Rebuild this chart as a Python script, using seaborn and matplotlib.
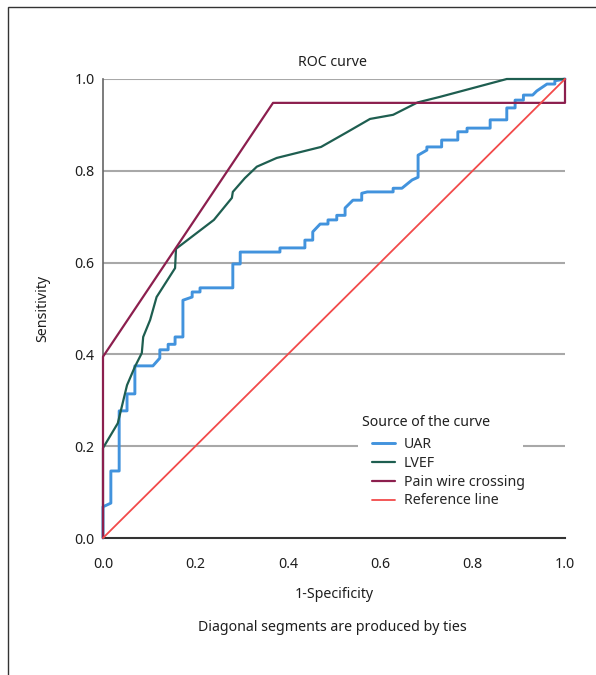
import pandas as pd
import matplotlib
matplotlib.use("Agg")
import matplotlib.pyplot as plt
import matplotlib.patches as patches
import seaborn as sns

# ROC curve points (1-Specificity, Sensitivity)
uar_fpr = [0, 0, 0.017, 0.017, 0.035, 0.035, 0.052, 0.052, 0.069, 0.069, 0.108, 0.123, 0.123,
           0.141, 0.141, 0.156, 0.156, 0.173, 0.173, 0.193, 0.193, 0.21, 0.21, 0.281, 0.281,
           0.297, 0.297, 0.383, 0.383, 0.437, 0.437, 0.454, 0.454, 0.47, 0.487, 0.487, 0.506,
           0.506, 0.524, 0.524, 0.541, 0.56, 0.56, 0.572, 0.628, 0.628, 0.647, 0.669, 0.682,
           0.682, 0.701, 0.701, 0.733, 0.733, 0.768, 0.768, 0.788, 0.788, 0.838, 0.838, 0.874,
           0.874, 0.892, 0.892, 0.91, 0.91, 0.93, 0.939, 0.961, 0.978, 0.978, 1.0]
uar_tpr = [0, 0.068, 0.076, 0.146, 0.146, 0.277, 0.277, 0.314, 0.314, 0.375, 0.375, 0.392, 0.41,
           0.41, 0.422, 0.422, 0.438, 0.438, 0.518, 0.525, 0.536, 0.536, 0.545, 0.545, 0.597,
           0.597, 0.623, 0.623, 0.632, 0.632, 0.649, 0.649, 0.667, 0.684, 0.684, 0.693, 0.693,
           0.703, 0.703, 0.719, 0.736, 0.736, 0.751, 0.754, 0.754, 0.762, 0.762, 0.78, 0.786,
           0.834, 0.845, 0.852, 0.852, 0.867, 0.867, 0.885, 0.885, 0.893, 0.893, 0.911, 0.911,
           0.937, 0.937, 0.954, 0.954, 0.965, 0.965, 0.974, 0.989, 0.989, 0.996, 1.0]

lvef_fpr = [0, 0, 0.032, 0.052, 0.069, 0.084, 0.087, 0.102, 0.116, 0.156, 0.158, 0.24, 0.279,
            0.281, 0.307, 0.333, 0.376, 0.472, 0.528, 0.578, 0.628, 0.681, 0.729, 0.874, 1.0]
lvef_tpr = [0, 0.196, 0.25, 0.333, 0.373, 0.403, 0.438, 0.475, 0.525, 0.588, 0.63, 0.693, 0.741,
            0.754, 0.784, 0.809, 0.828, 0.852, 0.884, 0.913, 0.922, 0.949, 0.961, 1.0, 1.0]

pain_fpr = [0, 0, 0.368, 1.0, 1.0]
pain_tpr = [0, 0.395, 0.948, 0.948, 1.0]

ref_fpr = [0, 1]
ref_tpr = [0, 1]

curve_names = ["UAR", "LVEF", "Pain wire crossing", "Reference line"]
colors = ["#4293dd", "#1e5e50", "#8c1f4e", "#f24a4a"]
widths = [2.1, 1.6, 1.6, 1.3]

frames = []
for name, fx, ty in zip(curve_names,
                        [uar_fpr, lvef_fpr, pain_fpr, ref_fpr],
                        [uar_tpr, lvef_tpr, pain_tpr, ref_tpr]):
    frames.append(pd.DataFrame({"fpr": fx, "tpr": ty, "curve": name}))
df = pd.concat(frames, ignore_index=True)

sns.set_style("white")
plt.rcParams["font.family"] = ["Noto Sans", "DejaVu Sans"]
plt.rcParams["font.stretch"] = "condensed"
FS = 10.2
TXT = "#1e1e1e"

fig = plt.figure(figsize=(5.96, 6.75), dpi=100)
ax = fig.add_axes([103 / 596, 1 - 538 / 675, 462 / 596, 459 / 675])

# gridlines behind the curves
for yv in [0.2, 0.4, 0.6, 0.8, 1.0]:
    ax.axhline(yv, color="#a8a8a8", lw=1.5, zorder=0)

# white patch under the legend that hides part of the 0.2 gridline
ax.add_patch(patches.Rectangle(((358 - 103) / 462, (538 - 505) / 459), 165 / 462, 95 / 459,
                               transform=ax.transAxes, fc="white", ec="none", zorder=1))

for name, col, lw in zip(curve_names, colors, widths):
    sub = df[df["curve"] == name]
    sns.lineplot(data=sub, x="fpr", y="tpr", sort=False, estimator=None,
                 color=col, lw=lw, ax=ax, label=name, clip_on=False, zorder=3)

ax.set_xlim(0, 1)
ax.set_ylim(0, 1)
ax.set_xticks([0, 0.2, 0.4, 0.6, 0.8, 1.0])
ax.set_yticks([0, 0.2, 0.4, 0.6, 0.8, 1.0])
ax.set_xticklabels(["0.0", "0.2", "0.4", "0.6", "0.8", "1.0"])
ax.set_yticklabels(["0.0", "0.2", "0.4", "0.6", "0.8", "1.0"])
ax.tick_params(axis="x", length=0, pad=14, labelsize=FS, colors=TXT)
ax.tick_params(axis="y", length=0, pad=6, labelsize=FS, colors=TXT)

for s in ["top", "right"]:
    ax.spines[s].set_visible(False)
ax.spines["left"].set_color("#666666")
ax.spines["left"].set_linewidth(1.2)
ax.spines["bottom"].set_color("#333333")
ax.spines["bottom"].set_linewidth(1.5)

ax.set_xlabel("1-Specificity", fontsize=FS, color=TXT)
ax.set_ylabel("Sensitivity", fontsize=FS, color=TXT)
ax.xaxis.set_label_coords(0.5, -0.106)
ax.yaxis.set_label_coords(-0.114, 0.5)

ax.text(0.496, 1.037, "ROC curve", transform=ax.transAxes, ha="center", va="center",
        fontsize=FS, color=TXT)
ax.text(0.497, -0.194, "Diagonal segments are produced by ties", transform=ax.transAxes,
        ha="center", va="center", fontsize=FS, color=TXT)

# legend entries, with the title drawn separately so it sits left of the handles
leg = ax.legend(loc="upper left", bbox_to_anchor=((372 - 103) / 462, (538 - 437) / 459),
                fontsize=FS, frameon=False, handlelength=1.6, labelspacing=0.27,
                borderpad=0, handletextpad=0.65, borderaxespad=0)
leg.set_zorder(5)
ax.text((362 - 103) / 462, (538 - 423) / 459, "Source of the curve", transform=ax.transAxes,
        ha="left", va="center", fontsize=FS, color=TXT, zorder=6)

# outer frame of the panel, running off the right and bottom edges
fig.add_artist(patches.Rectangle((8 / 596, -0.1), 1.2, 1.1 - 7 / 675,
                                 transform=fig.transFigure, fill=False,
                                 lw=1.0, ec="#333333", clip_on=False))

fig.savefig("out.png", dpi=100)
